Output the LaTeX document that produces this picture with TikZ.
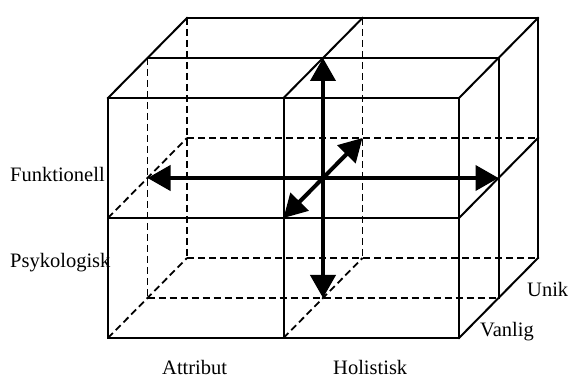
\documentclass[tikz,border=0pt]{standalone}
\usepackage{fontspec}
\setmainfont{Liberation Serif}
\usetikzlibrary{arrows.meta}
\tikzset{
  edge/.style={line width=2pt, line cap=rect},
  hidden/.style={line width=1.8pt, dash pattern=on 7pt off 4pt},
  axis/.style={line width=4pt, {Triangle[length=23pt,width=25pt]}-{Triangle[length=23pt,width=25pt]}},
  lbl/.style={inner sep=0pt, anchor=base west, font=\fontsize{20.5}{24}\selectfont}
}
\begin{document}
\begin{tikzpicture}[x=1pt,y=-1pt]
\useasboundingbox (0,0) rectangle (568,379);
\foreach \i in {0,1,2}{\foreach \j in {0,1,2}{\foreach \k in {0,1,2}{
  \coordinate (p\i\j\k) at ({108+175.5*\i+39.5*\k},{338-120*\j-40*\k});
}}}
% hidden lines
\draw[hidden] (p021) -- (p001);
\draw[hidden] (p022) -- (p002);
\draw[hidden] (p122) -- (p102);
\draw[hidden] (p001) -- (p201);
\draw[hidden] (p002) -- (p202);
\draw[hidden] (p012) -- (p212);
\draw[hidden] (p010) -- (p012);
\draw[hidden] (p000) -- (p002);
\draw[hidden] (p100) -- (p102);
% visible edges
\draw[edge] (p000) rectangle (p220);
\draw[edge] (p100) -- (p120);
\draw[edge] (p010) -- (p210);
\draw[edge] (p020) -- (p022);
\draw[edge] (p120) -- (p122);
\draw[edge] (p220) -- (p222);
\draw[edge] (p021) -- (p221);
\draw[edge] (p022) -- (p222);
\draw[edge] (p202) -- (p222);
\draw[edge] (p201) -- (p221);
\draw[edge] (p210) -- (p212);
\draw[edge] (p200) -- (p202);
% axes
\draw[axis] (p011) -- (p211);
\draw[axis] (p101) -- (p121);
\draw[axis] (p110) -- (p112);
% labels
\node[lbl] (funk) at (10,182) {Funktionell};
\node[lbl] (psyk) at (10,268) {Psykologisk};
\node[lbl] (attr) at (162,375) {Attribut};
\node[lbl] (holi) at (333,375) {Holistisk};
\node[lbl] (unik) at (527,297) {Unik};
\node[lbl] (vanl) at (480,337) {Vanlig};
\end{tikzpicture}
\end{document}
